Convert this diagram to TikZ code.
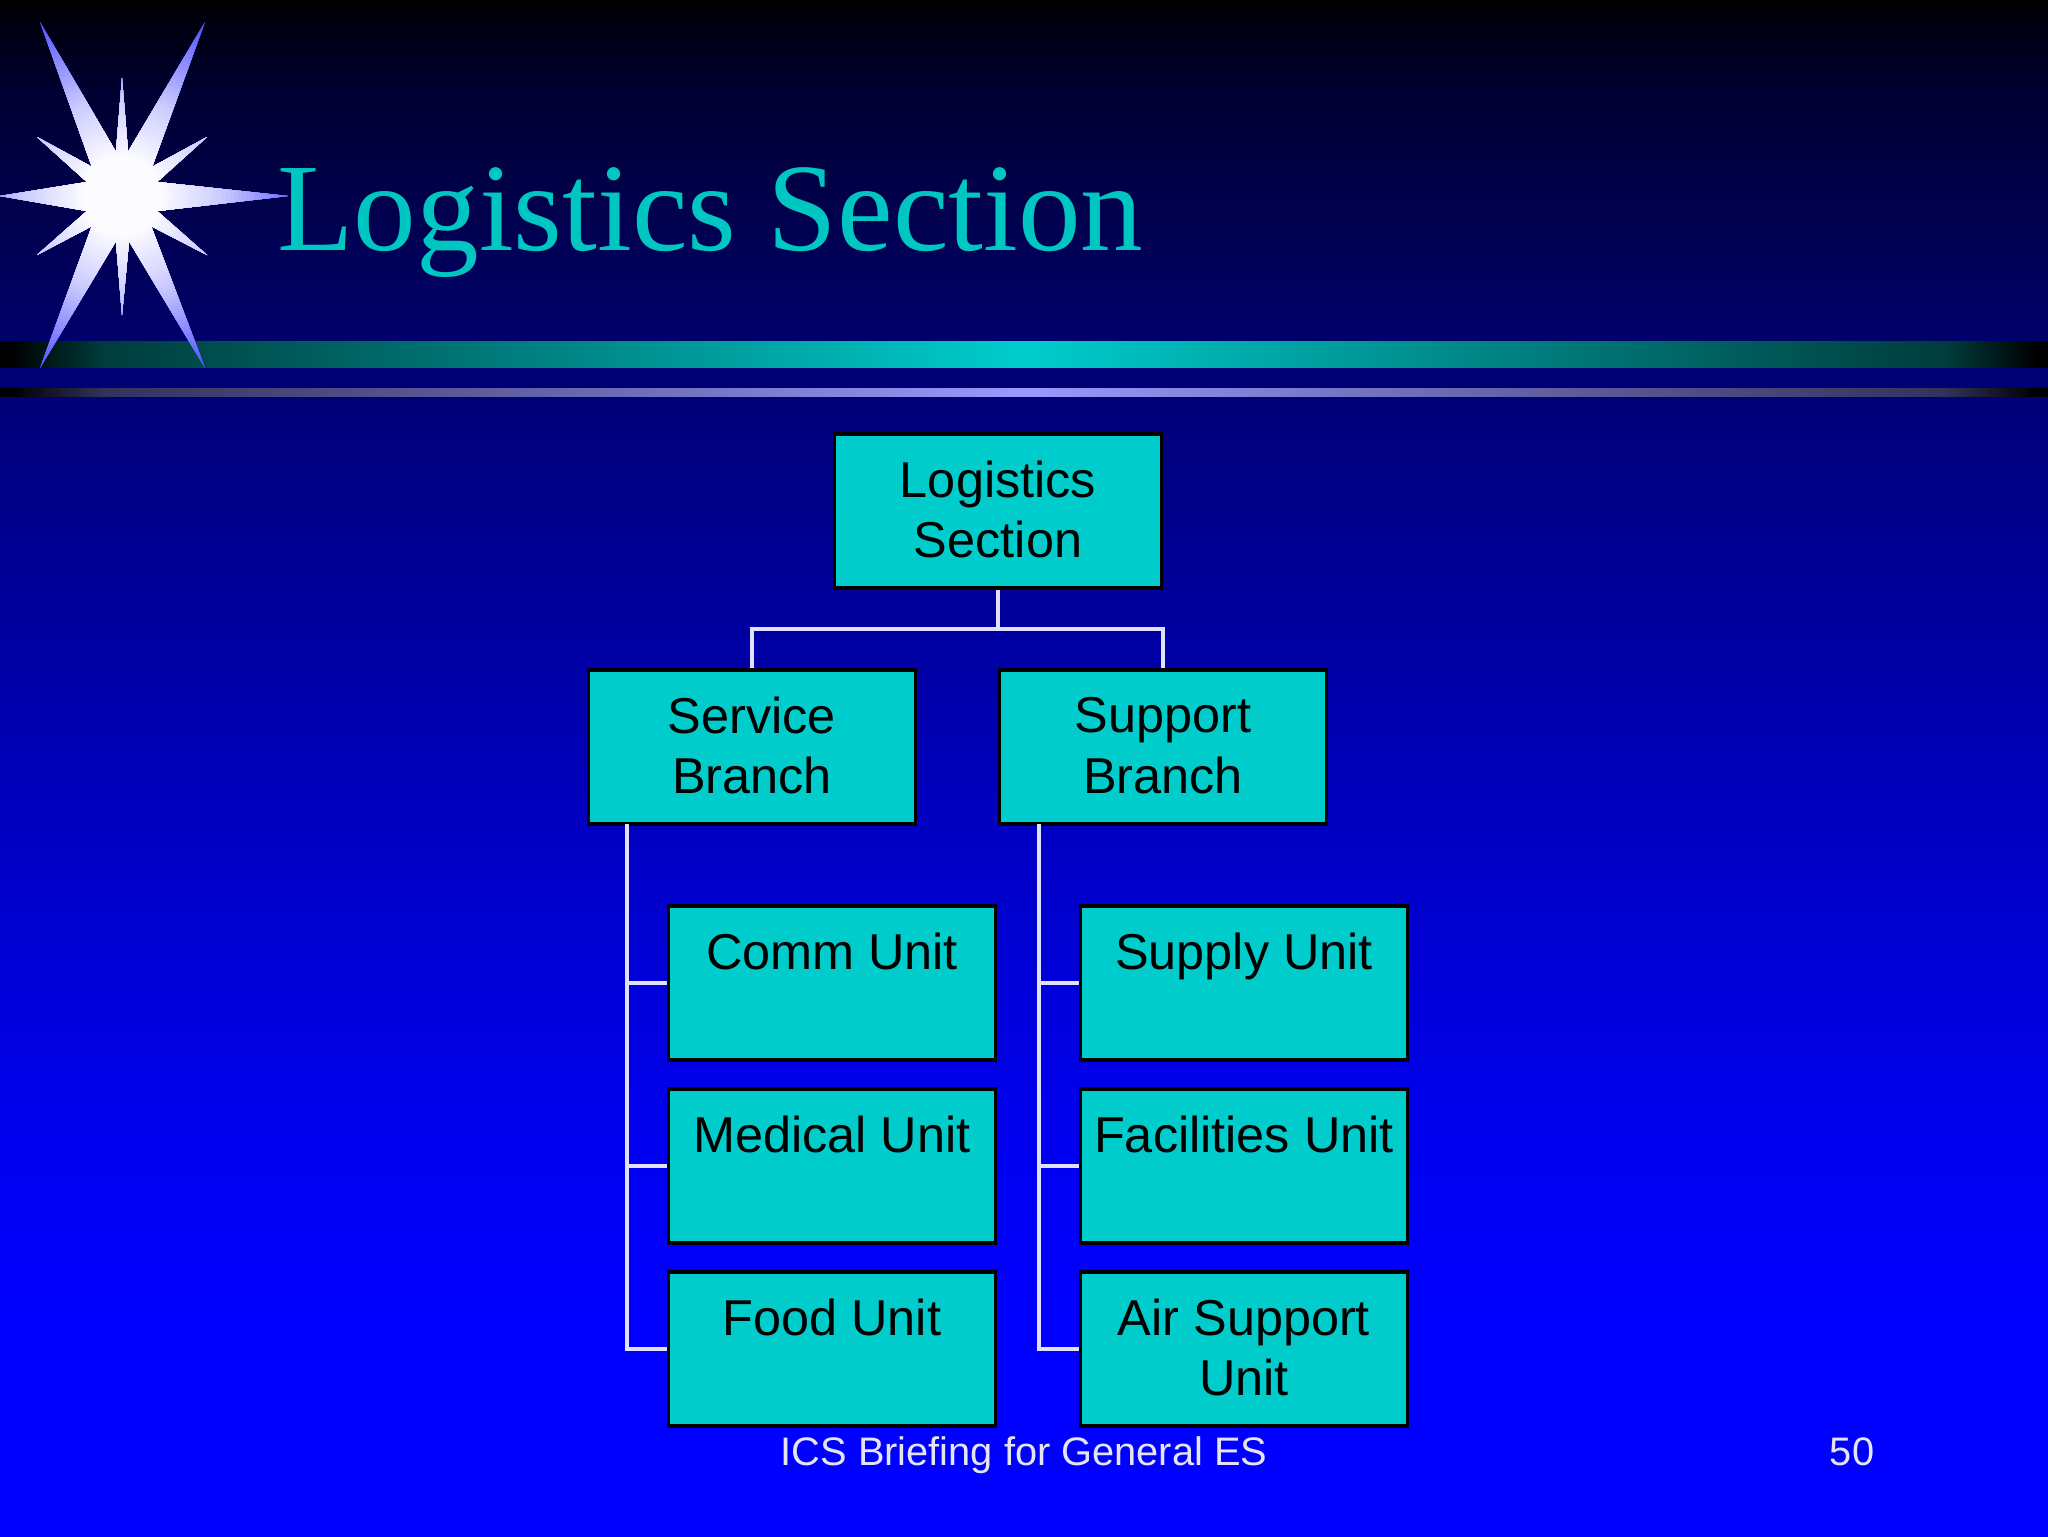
\documentclass[tikz,border=0pt]{standalone}
\usepackage{fontspec}
\setmainfont{Liberation Sans}
\newfontfamily\titlefont{Liberation Serif}
\definecolor{boxteal}{RGB}{0,204,204}
\definecolor{titleteal}{RGB}{0,198,194}
\definecolor{linecol}{RGB}{225,225,255}
\definecolor{footcol}{RGB}{228,228,245}
\definecolor{spike}{RGB}{85,85,255}
\definecolor{bgA}{RGB}{0,0,0}
\definecolor{bgB}{RGB}{0,0,12}
\definecolor{bgC}{RGB}{0,0,50}
\definecolor{bgD}{RGB}{0,0,120}
\definecolor{bgE}{RGB}{0,0,190}
\definecolor{bgF}{RGB}{0,0,235}
\definecolor{bgG}{RGB}{0,0,255}
\definecolor{tealA}{RGB}{0,0,0}
\definecolor{tealB}{RGB}{0,60,60}
\definecolor{tealC}{RGB}{0,205,205}
\definecolor{periC}{RGB}{153,153,255}
\definecolor{periB}{RGB}{50,50,90}
\pgfdeclareverticalshading{slidebg}{100bp}{%
 color(0bp)=(bgG);color(32bp)=(bgG);color(39bp)=(bgF);color(49bp)=(bgE);
 color(62bp)=(bgD);color(72bp)=(bgC);color(74.4bp)=(bgB);color(75bp)=(bgA);color(100bp)=(bgA)}
\pgfdeclarehorizontalshading{tealbar}{100bp}{%
 color(0bp)=(tealA);color(25.3bp)=(tealA);color(27.5bp)=(tealB);
 color(50bp)=(tealC);color(72.5bp)=(tealB);color(74.7bp)=(tealA);color(100bp)=(tealA)}
\pgfdeclarehorizontalshading{peribar}{100bp}{%
 color(0bp)=(tealA);color(25.3bp)=(tealA);color(27.5bp)=(periB);
 color(50bp)=(periC);color(72.5bp)=(periB);color(74.7bp)=(tealA);color(100bp)=(tealA)}
\tikzset{
 orgbox/.style={draw=black,line width=1.8pt,fill=boxteal,minimum width=163.5pt,minimum height=77pt,
   inner sep=0pt,align=center,text=black,text depth=1.8pt,font=\fontsize{25.2}{30.4}\selectfont},
 conn/.style={draw=linecol,line width=1.55pt},
 foot/.style={inner sep=0pt,text=footcol,font=\fontsize{19.9}{24}\selectfont},
}
\begin{document}
\begin{tikzpicture}[x=0.5pt,y=-0.5pt]
\useasboundingbox (0,0) rectangle (2048,1536);
\shade[shading=slidebg] (0,0) rectangle (2048,1536);
\shade[shading=tealbar] (0,341) rectangle (2048,367);
\shade[shading=peribar] (0,388) rectangle (2048,396);
\begin{scope}
\clip (122,78) -- (128,152) -- (205,22) -- (152,167) -- (207,137) -- (157,182) -- (288,196)
 -- (157,211) -- (207,255) -- (151,226) -- (205,368) -- (129,241) -- (122,315) -- (116,241)
 -- (40,368) -- (92,226) -- (37,255) -- (87,211) -- (0,196) -- (87,182) -- (37,137)
 -- (92,167) -- (40,22) -- (116,152) -- cycle;
% glow: concentric discs from the spike tips inwards
\fill[spike] (122,196) circle (200);
\foreach \r in {196,192,...,40}{
  \pgfmathsetmacro{\p}{\r<100 ? max(0,(\r-36)/64*30) : 30+(\r-100)/90*70}
  \fill[spike!\p!white] (122,196) circle (\r);
}
\end{scope}
\node[anchor=base west,inner sep=0pt,text=titleteal,font=\titlefont\fontsize{62.6}{70}\selectfont] (title) at (277,250) {Logistics Section};

\node[orgbox] (logistics) at (998,511) {Logistics\\Section};
\node[orgbox] (service) at (752,747) {Service\\Branch};
\node[orgbox] (support) at (1163,747) {Support\\Branch};
\node[orgbox] (comm) at (832,983) {Comm Unit\\\mbox{}};
\node[orgbox] (medical) at (832,1166) {Medical Unit\\\mbox{}};
\node[orgbox] (food) at (832,1349) {Food Unit\\\mbox{}};
\node[orgbox] (supply) at (1244,983) {Supply Unit\\\mbox{}};
\node[orgbox] (facilities) at (1244,1166) {Facilities Unit\\\mbox{}};
\node[orgbox] (air) at (1244,1349) {Air Support\\Unit};

\coordinate (junction) at (998,629);
\coordinate (trunkA) at (627,824);
\coordinate (trunkB) at (1039,824);
\draw[conn] (logistics.south) -- (junction);
\draw[conn] (service.north) |- (junction);
\draw[conn] (support.north) |- (junction);
\draw[conn] (trunkA) |- (food.west);
\draw[conn] (trunkA |- comm.west) -- (comm.west);
\draw[conn] (trunkA |- medical.west) -- (medical.west);
\draw[conn] (trunkB) |- (air.west);
\draw[conn] (trunkB |- supply.west) -- (supply.west);
\draw[conn] (trunkB |- facilities.west) -- (facilities.west);

\node[foot,anchor=base] (footer) at (1024,1465) {ICS Briefing for General ES};
\node[foot,anchor=base] (pagenum) at (1852,1465) {50};
\end{tikzpicture}
\end{document}
